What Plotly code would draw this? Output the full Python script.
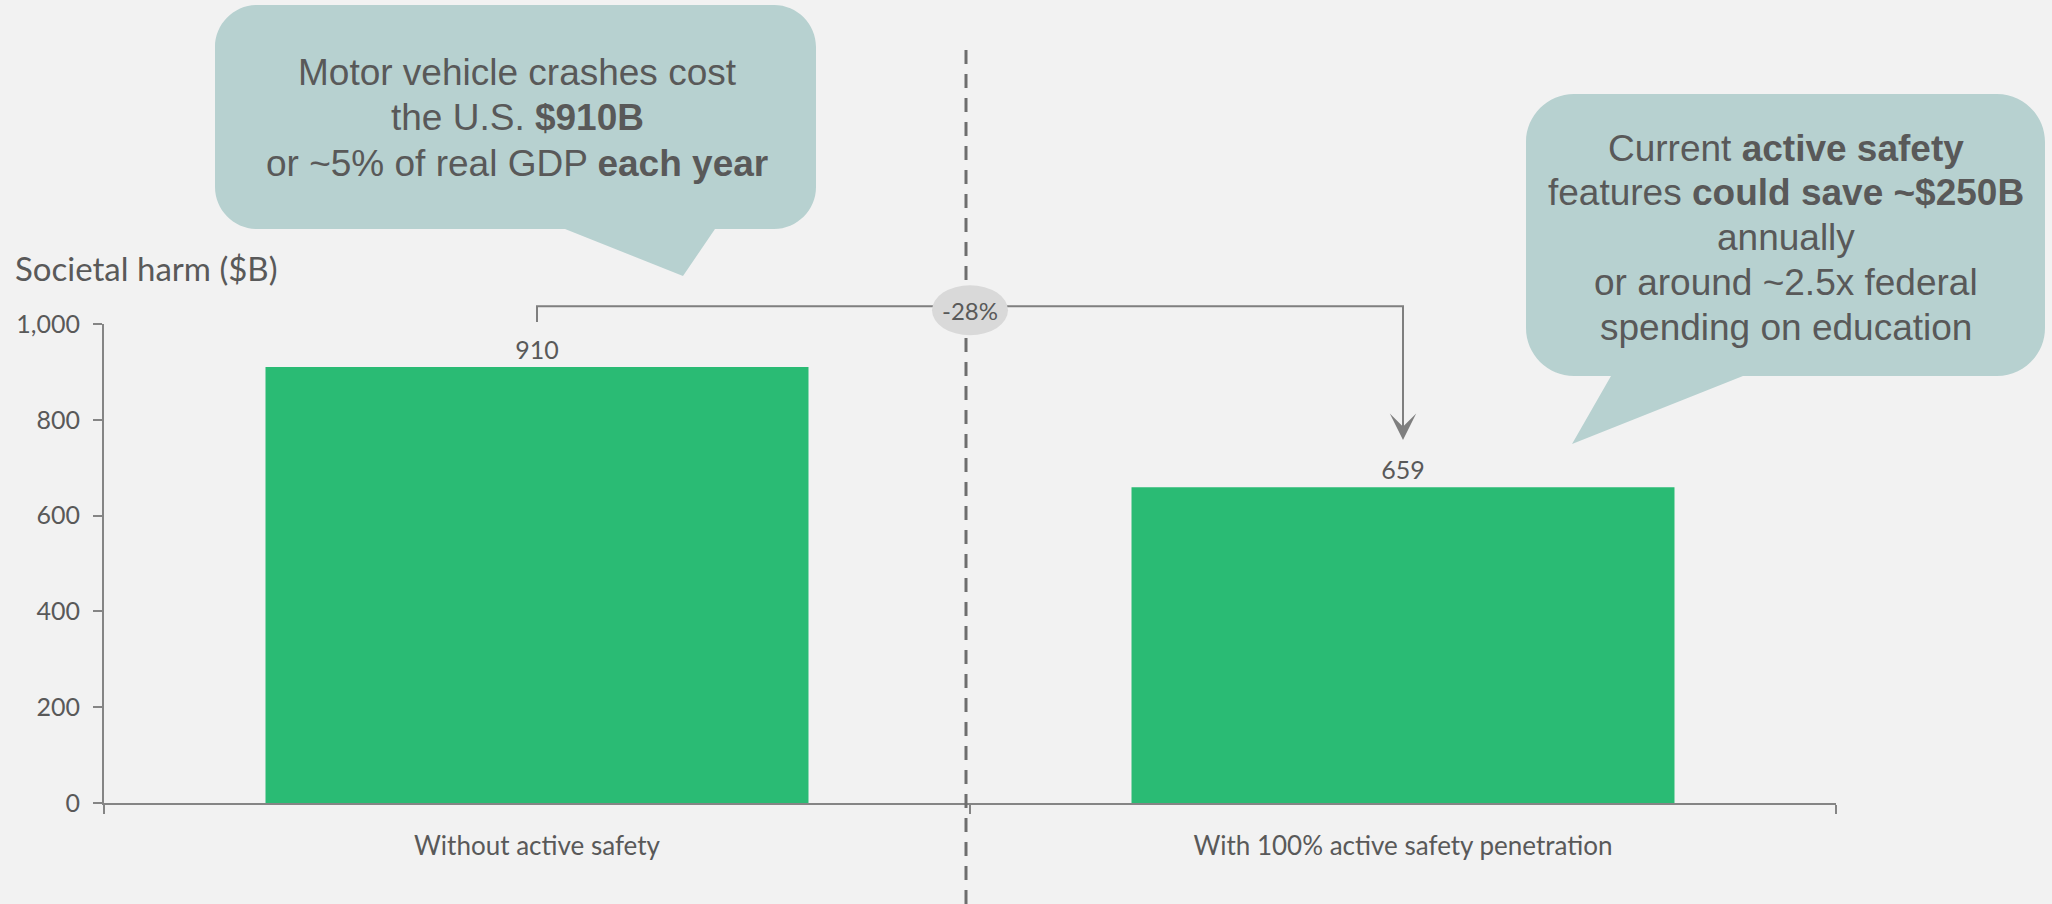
import plotly.graph_objects as go

# ---- data ----
categories = ["Without active safety", "With 100% active safety penetration"]
values = [910, 659]
y_ticks = [0, 200, 400, 600, 800, 1000]
y_tick_labels = ["0", "200", "400", "600", "800", "1,000"]
change_label = "-28%"
y_title = "Societal harm ($B)"
callout_left_lines = ["Motor vehicle crashes cost", "the U.S. <b>$910B</b>",
                      "or ~5% of real GDP <b>each year</b>"]
callout_right_lines = ["Current <b>active safety</b>", "features <b>could save ~$250B</b>",
                       "annually", "or around ~2.5x federal", "spending on education"]

# ---- layout geometry (pixels) ----
FW, FH = 2052, 904
ML, MR, MT, MB = 104, 216, 324, 101
PW = FW - ML - MR
PH = FH - MT - MB
BOT = FH - MB

BG = "#f2f2f2"
GREEN = "#2abb74"
AXIS = "#858585"
TXT = "#595959"
CALLOUT = "#b7d1d0"
UI_FONT = "Lato"
CALL_FONT = "Liberation Sans, Arial"


def P(px, py):
    return (px - ML) / PW, (BOT - py) / PH


def pt(px, py):
    x, y = P(px, py)
    return f"{x:.5f},{y:.5f}"


def bubble(x0, y0, x1, y1, r, tail_right, tip, tail_left):
    k = 0.45
    d = [f"M{pt(x0 + r, y0)}", f"L{pt(x1 - r, y0)}",
         f"C{pt(x1 - r * k, y0)} {pt(x1, y0 + r * k)} {pt(x1, y0 + r)}",
         f"L{pt(x1, y1 - r)}",
         f"C{pt(x1, y1 - r * k)} {pt(x1 - r * k, y1)} {pt(x1 - r, y1)}",
         f"L{pt(tail_right, y1)}", f"L{pt(*tip)}", f"L{pt(tail_left, y1)}",
         f"L{pt(x0 + r, y1)}",
         f"C{pt(x0 + r * k, y1)} {pt(x0, y1 - r * k)} {pt(x0, y1 - r)}",
         f"L{pt(x0, y0 + r)}",
         f"C{pt(x0, y0 + r * k)} {pt(x0 + r * k, y0)} {pt(x0 + r, y0)}", "Z"]
    return dict(type="path", xref="paper", yref="paper", path=" ".join(d),
                fillcolor=CALLOUT, line=dict(width=0), layer="above")


fig = go.Figure()
fig.add_trace(go.Bar(
    x=categories, y=values, marker=dict(color=GREEN, line=dict(width=0)),
    width=0.627, text=[f"{v:,}" for v in values], textposition="outside",
    textfont=dict(family=UI_FONT, size=25, color=TXT), cliponaxis=False,
    hoverinfo="skip"))

n = len(categories)
def cat_paper(i):
    return (i + 0.5) / n

top_val = 1000
bracket_y = 1037 / top_val
start_y = 1004 / top_val

shapes = [
    # dashed divider
    dict(type="line", xref="paper", yref="paper", x0=0.5 - 4 / PW, x1=0.5 - 4 / PW,
         y0=(BOT - 904) / PH, y1=(BOT - 45) / PH,
         line=dict(color="#6e6e6e", width=3, dash="14px,10px"), layer="above"),
    # bracket
    dict(type="path", xref="paper", yref="paper",
         path=(f"M{cat_paper(0):.5f},{start_y:.5f} L{cat_paper(0):.5f},{bracket_y:.5f} "
               f"L{cat_paper(1):.5f},{bracket_y:.5f} L{cat_paper(1):.5f},0.80"),
         line=dict(color="#7f7f7f", width=2), layer="above"),
    # ellipse behind -28%
    dict(type="circle", xref="paper", yref="paper", xsizemode="pixel", ysizemode="pixel",
         xanchor=0.5, yanchor=bracket_y - 4 / PH, x0=-38, x1=38, y0=-25, y1=25,
         fillcolor="#d9d9d9", line=dict(width=0), layer="above"),
    bubble(215, 5, 816, 229, 42, 715, (683, 276), 565),
    bubble(1526, 94, 2045, 376, 48, 1743, (1572, 444), 1611),
]

tx, ty = P(13, 268)

annotations = [
    dict(x=1, y=758, xref="x", yref="y", ax=1, ay=1037, axref="x", ayref="y",
         showarrow=True, arrowhead=3, arrowsize=2.2, arrowwidth=2, arrowcolor="#7f7f7f",
         text=""),
    dict(x=0.5, y=bracket_y - 4 / PH, xref="paper", yref="paper", text=change_label,
         showarrow=False, font=dict(family=UI_FONT, size=24, color=TXT),
         xanchor="center", yanchor="middle"),
    dict(x=tx, y=ty, xref="paper", yref="paper", text=y_title, showarrow=False,
         font=dict(family=UI_FONT, size=33, color=TXT), xanchor="left", yanchor="middle"),
]

for i, line in enumerate(callout_left_lines):
    x, y = P(517, 72 + 45.5 * i)
    annotations.append(dict(x=x, y=y, xref="paper", yref="paper", text=line,
                            showarrow=False, font=dict(family=CALL_FONT, size=37, color=TXT),
                            xanchor="center", yanchor="middle"))
for i, line in enumerate(callout_right_lines):
    x, y = P(1785.5, 148 + 44.8 * i)
    annotations.append(dict(x=x, y=y, xref="paper", yref="paper", text=line,
                            showarrow=False, font=dict(family=CALL_FONT, size=37, color=TXT),
                            xanchor="center", yanchor="middle"))

fig.update_layout(
    width=FW, height=FH, autosize=False,
    margin=dict(l=ML, r=MR, t=MT, b=MB, pad=0),
    paper_bgcolor=BG, plot_bgcolor=BG,
    showlegend=False,
    shapes=shapes, annotations=annotations,
    xaxis=dict(type="category", range=[-0.5, n - 0.5], showline=True, linecolor=AXIS,
               linewidth=2, ticks="outside", tickson="boundaries", ticklen=9,
               tickwidth=2, tickcolor=AXIS, showgrid=False, zeroline=False,
               tickfont=dict(family=UI_FONT, size=26, color=TXT),
               ticklabelstandoff=19, fixedrange=True),
    yaxis=dict(range=[0, 1000], tickvals=y_ticks, ticktext=y_tick_labels,
               showline=True, linecolor=AXIS, linewidth=2, ticks="outside",
               ticklen=9, tickwidth=2, tickcolor=AXIS, showgrid=False, zeroline=False,
               tickfont=dict(family=UI_FONT, size=25, color=TXT),
               ticklabelstandoff=8, fixedrange=True),
)

fig.write_html("out.html", config=dict(displayModeBar=False))
